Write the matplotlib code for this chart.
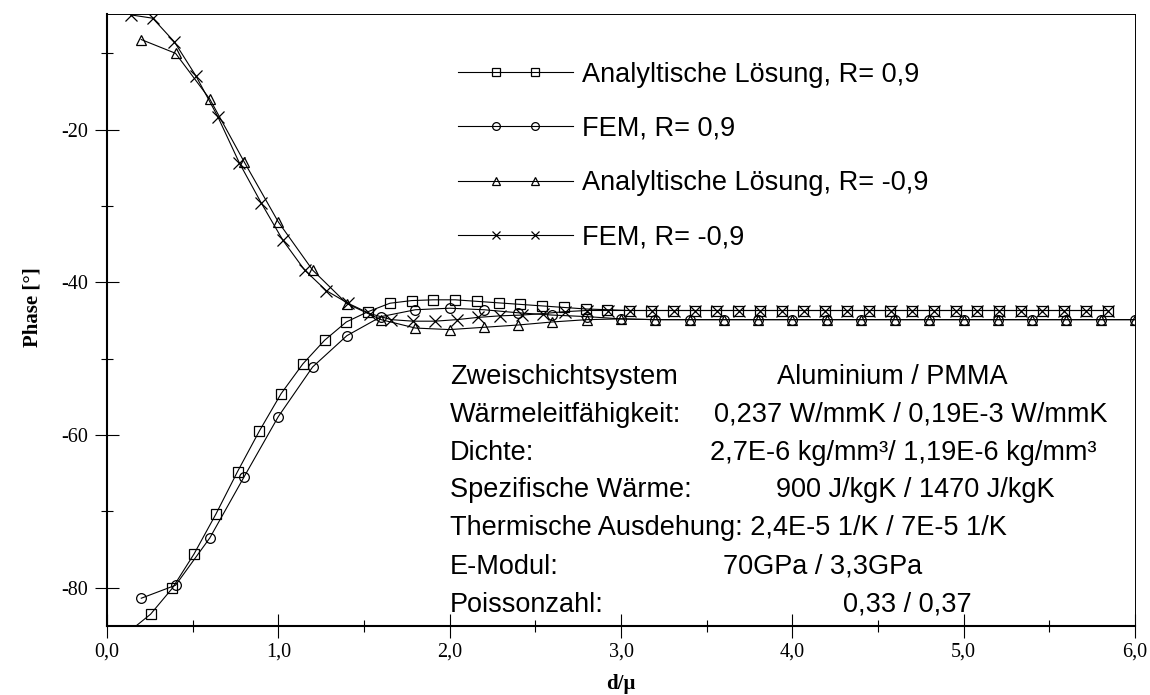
import numpy as np
import matplotlib.pyplot as plt
from matplotlib.legend_handler import HandlerLine2D
from matplotlib.lines import Line2D
from matplotlib.ticker import MultipleLocator

# x positions (d/mu) of the four series
x_ana_pos = np.arange(1, 47) * 0.127
x_fem_neg = np.linspace(0.14, 5.84, 46)
x_fem_pos = np.arange(1, 31) * 0.2
x_ana_neg = np.arange(1, 31) * 0.2

# phase values
phase_ana_pos = [-85.8, -83.5, -80.1, -75.6, -70.4, -64.8, -59.5, -54.6, -50.7, -47.6,
                 -45.2, -43.85, -42.75, -42.4, -42.3, -42.3, -42.5, -42.7, -42.9, -43.1,
                 -43.3, -43.5, -43.6] + [-43.7] * 23
phase_fem_neg = [-4.97, -5.4, -8.5, -13.0, -18.3, -24.4, -29.6, -34.5, -38.4, -41.1,
                 -42.75, -44.1, -44.9, -45.1, -45.1, -44.9, -44.6, -44.4, -44.3, -44.1,
                 -43.85, -43.7] + [-43.7] * 24
phase_fem_pos = [-81.4, -79.7, -73.5, -65.5, -57.6, -51.1, -47.0, -44.5, -43.6, -43.4,
                 -43.6, -44.0, -44.3, -44.5, -44.8] + [-44.9] * 15
phase_ana_neg = [-8.2, -10.0, -16.0, -24.2, -32.1, -38.4, -42.8, -44.9, -46.0, -46.2,
                 -45.9, -45.6, -45.2, -44.9, -44.8] + [-44.9] * 15

labels = ["Analyltische Lösung, R= 0,9", "FEM, R= 0,9",
          "Analyltische Lösung, R= -0,9", "FEM, R= -0,9"]

xticks = [0, 1, 2, 3, 4, 5, 6]
xtick_labels = ["0,0", "1,0", "2,0", "3,0", "4,0", "5,0", "6,0"]
yticks = [-80, -60, -40, -20]
ytick_labels = ["-80", "-60", "-40", "-20"]

info_labels = ["Zweischichtsystem", "Wärmeleitfähigkeit:", "Dichte:", "Spezifische Wärme:",
               "Thermische Ausdehung: 2,4E-5 1/K / 7E-5 1/K", "E-Modul:", "Poissonzahl:"]
info_values = ["Aluminium / PMMA", "0,237 W/mmK / 0,19E-3 W/mmK",
               "2,7E-6 kg/mm³/ 1,19E-6 kg/mm³", "900 J/kgK / 1470 J/kgK", "",
               "70GPa / 3,3GPa", "0,33 / 0,37"]


class TwoMarkers(HandlerLine2D):
    # line over the full handle, markers only at the two inner points
    def create_artists(self, *args, **kwargs):
        arts = super().create_artists(*args, **kwargs)
        for a in arts:
            a.set_markevery([1, 2])
        return arts


W, H = 1150, 695
fig = plt.figure(figsize=(W / 100, H / 100), dpi=100)
ax = fig.add_axes([107 / W, (H - 625.7) / H, 1028 / W, 611.7 / H])

style = dict(color="black", lw=0.8, mfc="none", mec="black", mew=0.9)
ax.plot(x_ana_pos, phase_ana_pos, marker="s", ms=7, label=labels[0], **style)
ax.plot(x_fem_pos, phase_fem_pos, marker="o", ms=7, label=labels[1], **style)
ax.plot(x_ana_neg, phase_ana_neg, marker="^", ms=7.5, label=labels[2], **style)
ax.plot(x_fem_neg, phase_fem_neg, marker="x", ms=8, label=labels[3], **style)

ax.set_xlim(0, 6)
ax.set_ylim(-85, -4.85)

ax.set_xticks(xticks)
ax.set_xticklabels(xtick_labels)
ax.xaxis.set_minor_locator(MultipleLocator(0.5))
ax.set_yticks(yticks)
ax.set_yticklabels(ytick_labels)
ax.yaxis.set_minor_locator(MultipleLocator(10))

ax.tick_params(which="both", direction="inout", width=0.8, top=False, right=False)
ax.tick_params(which="major", length=17)
ax.tick_params(which="minor", length=8.5)
ax.tick_params(axis="x", pad=3.6)
ax.tick_params(axis="y", pad=5.4)
for lab in ax.get_xticklabels() + ax.get_yticklabels():
    lab.set_family("Liberation Serif")
    lab.set_fontsize(14.5)

ax.spines["left"].set_linewidth(1.5)
ax.spines["bottom"].set_linewidth(1.5)
ax.spines["top"].set_linewidth(0.7)
ax.spines["right"].set_linewidth(0.7)

ax.set_xlabel("d/µ", family="Liberation Serif", fontweight="bold", fontsize=15, labelpad=9)
ax.set_ylabel("Phase [°]", family="Liberation Serif", fontweight="bold", fontsize=15)
ax.yaxis.set_label_coords(-0.063, 0.52)

ax.legend(loc="upper left", bbox_to_anchor=((458 - 107) / 1028, (625.7 - 61.5) / 611.7),
          frameon=False, borderpad=0, borderaxespad=0, handlelength=4.24,
          handletextpad=0.33, labelspacing=1.05, markerscale=0.8,
          prop=dict(family="Liberation Sans", size=19.5),
          handler_map={Line2D: TwoMarkers(numpoints=4, marker_pad=0)})

row_y = [383.5, 421.8, 460.2, 496.8, 535.2, 573.5, 611.8]
value_x = [777, 714, 710, 776, 0, 723, 843]
for i in range(len(info_labels)):
    fig.text(450 / W, 1 - row_y[i] / H, info_labels[i], family="Liberation Sans",
             fontsize=19.5, va="baseline", ha="left")
    if info_values[i]:
        fig.text(value_x[i] / W, 1 - row_y[i] / H, info_values[i], family="Liberation Sans",
                 fontsize=19.5, va="baseline", ha="left")

fig.savefig("out.png", dpi=100)
